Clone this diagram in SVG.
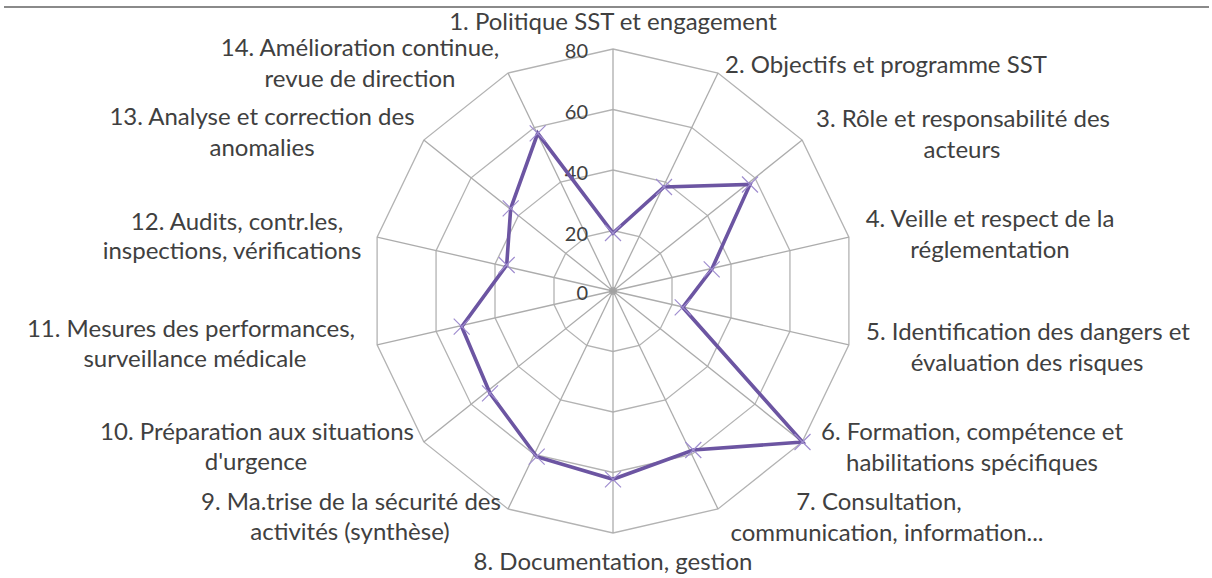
<svg xmlns="http://www.w3.org/2000/svg" width="1212" height="578" viewBox="0 0 1212 578">
  <style>
    .lbl { font-family: "Lato", "Liberation Sans", sans-serif; font-size: 24px; fill: #404040; text-anchor: middle; }
    .tick { font-family: "Lato", "Liberation Sans", sans-serif; font-size: 20px; fill: #404040; text-anchor: end; }
    .ring { fill: none; stroke: #b3b3b3; stroke-width: 1.3; }
    .spoke { stroke: #acacac; stroke-width: 1.3; }
    .series { fill: none; stroke: #6c55a2; stroke-width: 3.6; stroke-linejoin: miter; }
    .mark { stroke: #9f8dcf; stroke-width: 1.2; }
  </style>
  <rect width="1212" height="578" fill="#ffffff"/>
  <!-- frame rule along the top -->
  <line x1="4" y1="7" x2="1209" y2="7" stroke="#8a8a8a" stroke-width="2"/>

  <g id="grid">
    <polygon class="ring" points="613,230.5 639.25,236.5 660.3,253.3 672,277.5 672,304.5 660.3,328.7 639.25,345.5 613,351.5 586.75,345.5 565.7,328.7 554,304.5 554,277.5 565.7,253.3 586.75,236.5"/>
    <polygon class="ring" points="613,170 665.5,182 707.6,215.6 731,264.1 731,317.9 707.6,366.4 665.5,400 613,412 560.5,400 518.4,366.4 495,317.9 495,264.1 518.4,215.6 560.5,182"/>
    <polygon class="ring" points="613,109.5 691.75,127.5 754.9,177.8 789.95,250.6 789.95,331.4 754.9,404.2 691.75,454.5 613,472.5 534.25,454.5 471.1,404.2 436.05,331.4 436.05,250.6 471.1,177.8 534.25,127.5"/>
    <polygon class="ring" points="613,49 718,73 802.2,140.1 848.9,237.1 848.9,344.9 802.2,441.9 718,509 613,533 508,509 423.8,441.9 377.1,344.9 377.1,237.1 423.8,140.1 508,73"/>
    <g class="spoke">
      <line x1="613" y1="291" x2="613" y2="49"/>
      <line x1="613" y1="291" x2="718" y2="73"/>
      <line x1="613" y1="291" x2="802.2" y2="140.1"/>
      <line x1="613" y1="291" x2="848.9" y2="237.1"/>
      <line x1="613" y1="291" x2="848.9" y2="344.9"/>
      <line x1="613" y1="291" x2="802.2" y2="441.9"/>
      <line x1="613" y1="291" x2="718" y2="509"/>
      <line x1="613" y1="291" x2="613" y2="533"/>
      <line x1="613" y1="291" x2="508" y2="509"/>
      <line x1="613" y1="291" x2="423.8" y2="441.9"/>
      <line x1="613" y1="291" x2="377.1" y2="344.9"/>
      <line x1="613" y1="291" x2="377.1" y2="237.1"/>
      <line x1="613" y1="291" x2="423.8" y2="140.1"/>
      <line x1="613" y1="291" x2="508" y2="73"/>
    </g>
    <circle cx="613" cy="291" r="4" fill="#9a9a9a" opacity="0.6"/>
  </g>

  <g id="scale">
    <text class="tick" x="588" y="58">80</text>
    <text class="tick" x="588" y="119">60</text>
    <text class="tick" x="588" y="180">40</text>
    <text class="tick" x="588" y="241">20</text>
    <text class="tick" x="588" y="300">0</text>
  </g>

  <g id="series">
    <polygon class="series" points="613,233 664,187 750,184.5 711.7,269.3 682.7,307.3 802.5,442 693.3,450 613,479.3 536.7,456.7 490,393.3 461.7,326.7 506.7,265 510.7,208.3 537.7,133.3"/>
    <path class="mark" d="M605,225l16,16M621,225l-16,16 M656,179l16,16M672,179l-16,16 M742,176.5l16,16M758,176.5l-16,16 M703.7,261.3l16,16M719.7,261.3l-16,16 M674.7,299.3l16,16M690.7,299.3l-16,16 M794.5,434l16,16M810.5,434l-16,16 M685.3,442l16,16M701.3,442l-16,16 M605,471.3l16,16M621,471.3l-16,16 M528.7,448.7l16,16M544.7,448.7l-16,16 M482,385.3l16,16M498,385.3l-16,16 M453.7,318.7l16,16M469.7,318.7l-16,16 M498.7,257l16,16M514.7,257l-16,16 M502.7,200.3l16,16M518.7,200.3l-16,16 M529.7,125.3l16,16M545.7,125.3l-16,16"/>
  </g>

  <g id="label-1"><text class="lbl" x="613" y="30">1. Politique SST et engagement</text></g>
  <g id="label-2"><text class="lbl" x="886" y="73">2. Objectifs et programme SST</text></g>
  <g id="label-3"><text class="lbl" x="963" y="127">3. Rôle et responsabilité des</text><text class="lbl" x="962" y="158">acteurs</text></g>
  <g id="label-4"><text class="lbl" x="990" y="227">4. Veille et respect de la</text><text class="lbl" x="990" y="258">réglementation</text></g>
  <g id="label-5"><text class="lbl" x="1028" y="340">5. Identification des dangers et</text><text class="lbl" x="1027" y="371">évaluation des risques</text></g>
  <g id="label-6"><text class="lbl" x="972" y="440">6.  Formation, compétence et</text><text class="lbl" x="972" y="471">habilitations spécifiques</text></g>
  <g id="label-7"><text class="lbl" x="879" y="510">7. Consultation,</text><text class="lbl" x="887" y="541">communication, information...</text></g>
  <g id="label-8"><text class="lbl" x="613" y="570">8. Documentation, gestion</text></g>
  <g id="label-9"><text class="lbl" x="351" y="510">9. Ma.trise de la sécurité des</text><text class="lbl" x="350" y="540">activités (synthèse)</text></g>
  <g id="label-10"><text class="lbl" x="257" y="440">10. Préparation aux situations</text><text class="lbl" x="256" y="470">d'urgence</text></g>
  <g id="label-11"><text class="lbl" x="191" y="337">11. Mesures des performances,</text><text class="lbl" x="195" y="367">surveillance médicale</text></g>
  <g id="label-12"><text class="lbl" x="237" y="230">12. Audits, contr.les,</text><text class="lbl" x="232" y="259">inspections, vérifications</text></g>
  <g id="label-13"><text class="lbl" x="262" y="125">13. Analyse et correction des</text><text class="lbl" x="262" y="156">anomalies</text></g>
  <g id="label-14"><text class="lbl" x="360" y="56">14. Amélioration continue,</text><text class="lbl" x="360" y="87">revue de direction</text></g>
</svg>
